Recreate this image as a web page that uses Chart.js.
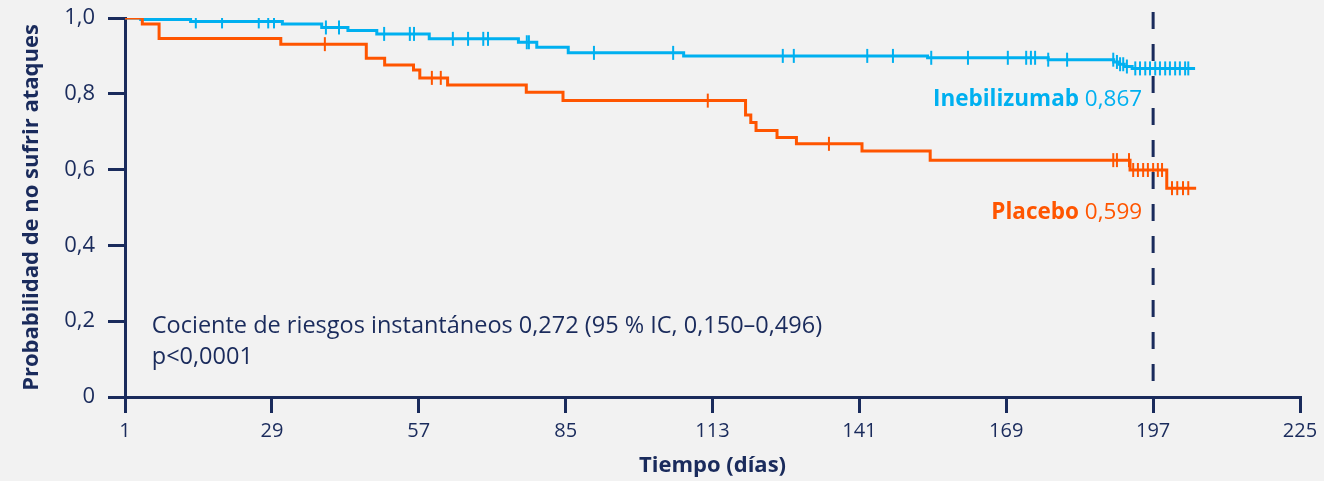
<!DOCTYPE html>
<html lang="es">
<head>
<meta charset="UTF-8">
<title>Probabilidad de no sufrir ataques</title>
<script src="https://cdn.jsdelivr.net/npm/chart.js"></script>
<style>
  body { margin: 0; background: #f2f2f2; }
  canvas { display: block; }
</style>
</head>
<body>
<canvas id="kmChart" width="1324" height="481"></canvas>
<script>
  // ejes
  const xTicks = [1, 29, 57, 85, 113, 141, 169, 197, 225];
  const yTicks = [0, 0.2, 0.4, 0.6, 0.8, 1.0];
  const yTickLabels = ['0', '0,2', '0,4', '0,6', '0,8', '1,0'];

  // Inebilizumab: tiempos (días) y supervivencia
  const inebTimes = [1, 4, 13.5, 31, 38.5, 43.5, 49, 59, 76, 79.5, 85.5, 107.5, 154, 177, 189.5, 190.5, 191.5, 193, 205];
  const inebSurv  = [1, 0.996, 0.991, 0.984, 0.975, 0.967, 0.958, 0.945, 0.936, 0.923, 0.908, 0.900, 0.895, 0.890, 0.884, 0.878, 0.872, 0.867, 0.867];
  const inebCensor = [14.5, 19.5, 26.5, 28.3, 29.4, 39.3, 41.8, 50.4, 55.3, 56.1, 63.5, 66.4, 69.3, 70.2, 77.6, 78.0,
    90.4, 105.5, 126.4, 128.5, 142.5, 147.4, 154.7, 161.7, 169.3, 172.8, 173.7, 174.5, 177.0, 180.6,
    189.4, 190.1, 190.7, 191.3, 192.0, 193.6, 194.5, 195.5, 196.4, 197.4, 198.3, 199.3, 200.2, 201.2, 202.1, 203.1, 203.7];

  // Placebo
  const placTimes = [1, 4.3, 7.5, 30.7, 47, 50.5, 56, 57.2, 62.5, 77.5, 84.5, 119.3, 120.3, 121.3, 125.3, 129, 141.5, 154.5, 192.6, 199.6, 205.2];
  const placSurv  = [1, 0.984, 0.946, 0.931, 0.894, 0.876, 0.863, 0.842, 0.823, 0.804, 0.782, 0.744, 0.724, 0.703, 0.685, 0.668, 0.649, 0.625, 0.599, 0.551, 0.551];
  const placCensor = [39.1, 59.5, 61.2, 112.1, 135.2, 189.4, 190.1, 192.4, 193.2, 194.1, 195.1, 196.0, 197.0, 197.9, 198.7,
    200.6, 201.6, 202.7, 203.7];

  const cutoffDay = 197;

  const BLUE = '#00b0f0';
  const ORANGE = '#ff5500';
  const NAVY = '#1a2b5c';
  const FONT = "'Open Sans', 'Noto Sans', sans-serif";

  function survAt(times, surv, t) {
    let s = surv[0];
    for (let i = 0; i < times.length; i++) {
      if (times[i] <= t) s = surv[i];
    }
    return s;
  }

  const curve = (times, surv) => times.map((t, i) => ({ x: t, y: surv[i] }));
  const marks = (cens, times, surv) => cens.map(t => ({ x: t, y: survAt(times, surv, t) }));

  const extras = {
    id: 'extras',
    afterDatasetsDraw(chart) {
      const { ctx, scales: { x, y } } = chart;
      ctx.save();
      // linea discontinua del dia 197
      ctx.strokeStyle = NAVY;
      ctx.lineWidth = 3;
      ctx.setLineDash([17, 15]);
      ctx.beginPath();
      ctx.moveTo(x.getPixelForValue(cutoffDay), y.getPixelForValue(1) - 6);
      ctx.lineTo(x.getPixelForValue(cutoffDay), y.getPixelForValue(0));
      ctx.stroke();
      ctx.setLineDash([]);

      // etiquetas de las curvas
      ctx.textBaseline = 'middle';
      const label = (bold, rest, color, yv) => {
        const xr = x.getPixelForValue(194.9);
        const yp = y.getPixelForValue(yv);
        ctx.fillStyle = color;
        ctx.font = '22.5px ' + FONT;
        ctx.textAlign = 'right';
        ctx.fillText(rest, xr, yp);
        const w = ctx.measureText(rest).width;
        ctx.font = 'bold 22.5px ' + FONT;
        ctx.fillText(bold + ' ', xr - w, yp);
      };
      label('Inebilizumab', '0,867', BLUE, 0.784);
      label('Placebo', '0,599', ORANGE, 0.486);

      ctx.fillStyle = NAVY;
      ctx.font = '23.5px ' + FONT;
      ctx.textAlign = 'left';
      ctx.fillText('Cociente de riesgos instantáneos 0,272 (95 % IC, 0,150–0,496)', x.getPixelForValue(6.1), y.getPixelForValue(0.187));
      ctx.fillText('p<0,0001', x.getPixelForValue(6.1), y.getPixelForValue(0.104));
      ctx.restore();
    }
  };

  new Chart(document.getElementById('kmChart'), {
    type: 'line',
    data: {
      datasets: [
        { label: 'Inebilizumab', data: curve(inebTimes, inebSurv), borderColor: BLUE, borderWidth: 3, stepped: 'before', pointRadius: 0, order: 2 },
        { label: 'Placebo', data: curve(placTimes, placSurv), borderColor: ORANGE, borderWidth: 3, stepped: 'before', pointRadius: 0, order: 1 },
        { label: 'cens-ineb', data: marks(inebCensor, inebTimes, inebSurv), showLine: false, pointStyle: 'line', rotation: 90,
          pointRadius: 7, pointBorderWidth: 2, pointBorderColor: BLUE, borderColor: BLUE, order: 2 },
        { label: 'cens-plac', data: marks(placCensor, placTimes, placSurv), showLine: false, pointStyle: 'line', rotation: 90,
          pointRadius: 7, pointBorderWidth: 2, pointBorderColor: ORANGE, borderColor: ORANGE, order: 1 }
      ]
    },
    options: {
      responsive: false,
      animation: false,
      layout: { padding: { top: 18, right: 24, left: 0, bottom: 0 } },
      plugins: { legend: { display: false }, tooltip: { enabled: false } },
      scales: {
        x: {
          type: 'linear',
          min: 1,
          max: 225,
          afterBuildTicks: s => { s.ticks = xTicks.map(v => ({ value: v })); },
          afterFit: s => { s.height = 84; s.paddingLeft = 0; s.paddingRight = 0; },
          border: { color: NAVY, width: 3 },
          grid: { drawOnChartArea: false, drawTicks: true, tickLength: 16, color: NAVY, lineWidth: 3 },
          ticks: { color: NAVY, font: { family: FONT, size: 20 }, padding: 6, maxRotation: 0 },
          title: { display: true, text: 'Tiempo (días)', color: NAVY, font: { family: FONT, size: 22, weight: 'bold' }, padding: { top: 0, bottom: 2 } }
        },
        y: {
          min: 0,
          max: 1,
          afterBuildTicks: s => { s.ticks = yTicks.map(v => ({ value: v })); },
          afterFit: s => { s.width = 125; s.paddingTop = 0; s.paddingBottom = 0; },
          border: { color: NAVY, width: 3 },
          grid: { drawOnChartArea: false, drawTicks: true, tickLength: 17, color: NAVY, lineWidth: 3 },
          ticks: { color: NAVY, font: { family: FONT, size: 22 }, padding: 13,
            callback: (v, i) => yTickLabels[i] },
          title: { display: true, text: 'Probabilidad de no sufrir ataques', color: NAVY, font: { family: FONT, size: 22, weight: 'bold' }, padding: { top: 19, bottom: 0 } }
        }
      }
    },
    plugins: [extras]
  });
</script>
</body>
</html>
